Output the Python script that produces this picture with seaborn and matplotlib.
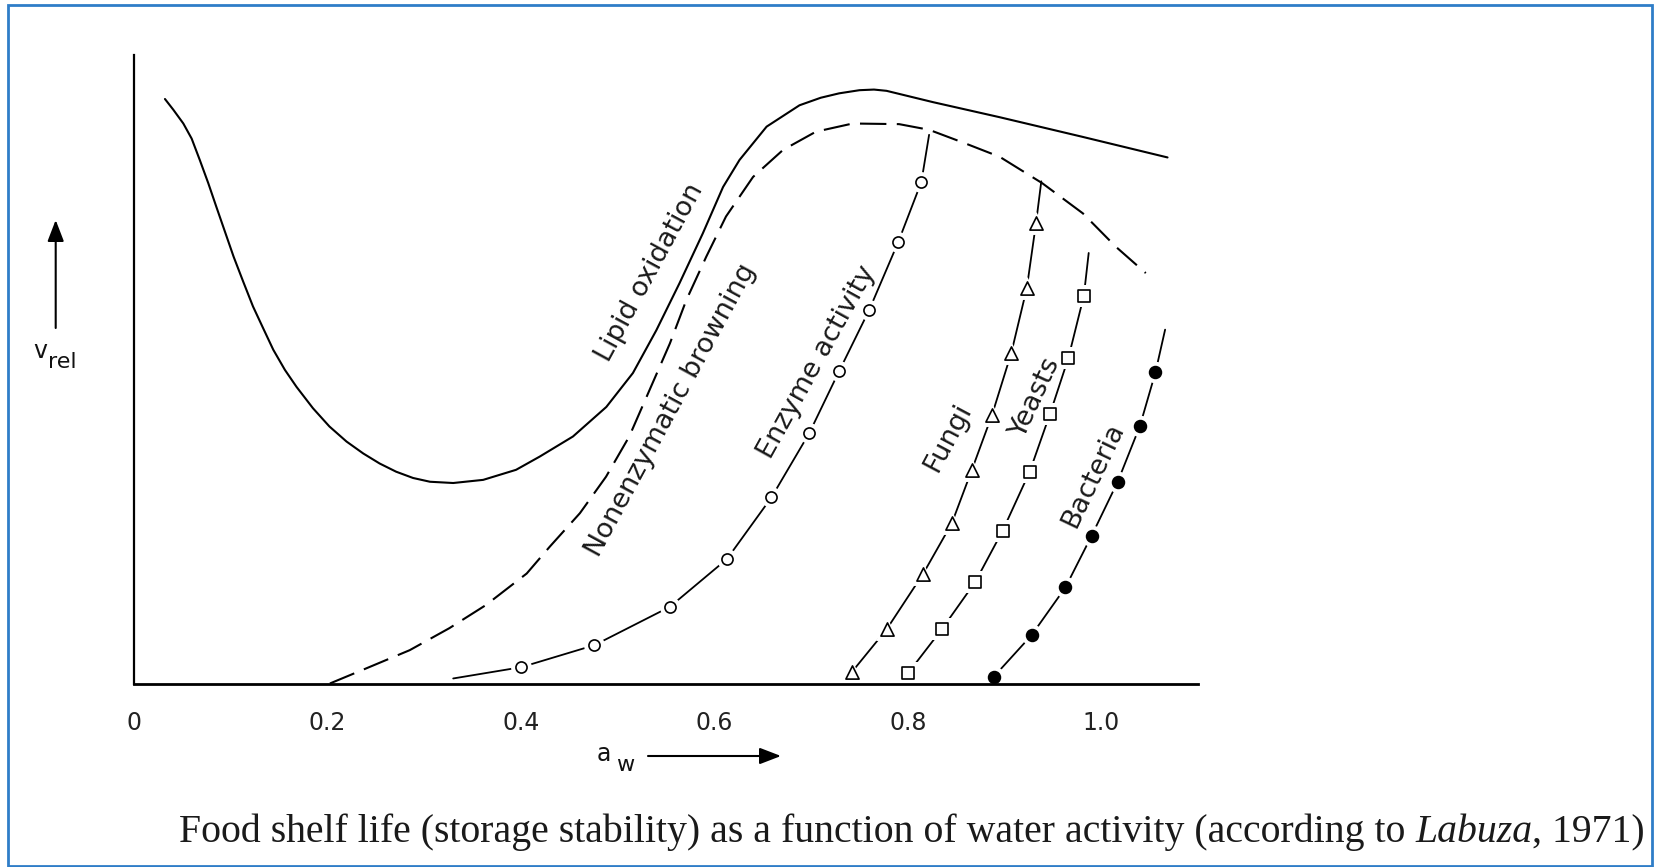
import numpy as np
import pandas as pd
import matplotlib
matplotlib.use("Agg")
import matplotlib.pyplot as plt
import matplotlib.patches as mpatches
import seaborn as sns

# ---------------- data ----------------
lipid_x = [0.032, 0.0406, 0.051, 0.0596, 0.068, 0.0768, 0.085, 0.094, 0.103, 0.113,
           0.123, 0.1336, 0.144, 0.156, 0.168, 0.185, 0.202, 0.2197, 0.237, 0.254,
           0.271, 0.2885, 0.306, 0.330, 0.361, 0.395, 0.4194, 0.4538, 0.4883, 0.5158,
           0.540, 0.564, 0.588, 0.609, 0.626, 0.654, 0.688, 0.710, 0.729, 0.750,
           0.765, 0.778, 0.826, 0.895, 0.980, 1.0685]
lipid_y = [93.0, 91.3, 89.1, 86.7, 83.3, 79.6, 75.9, 71.9, 67.9, 63.9,
           60.0, 56.5, 53.1, 49.9, 47.2, 43.8, 40.9, 38.5, 36.6, 35.0,
           33.7, 32.7, 32.1, 31.9, 32.4, 34.0, 36.1, 39.3, 44.0, 49.4,
           56.2, 63.7, 71.6, 79.0, 83.3, 88.6, 92.0, 93.2, 93.9, 94.4,
           94.5, 94.3, 92.5, 90.1, 87.0, 83.7]

browning_x = [0.2025, 0.240, 0.285, 0.326, 0.364, 0.406, 0.430, 0.461, 0.488, 0.512,
              0.533, 0.554, 0.571, 0.5916, 0.612, 0.640, 0.671, 0.705, 0.743, 0.791,
              0.822, 0.860, 0.895, 0.939, 0.981, 1.015, 1.046]
browning_y = [0.0, 2.4, 5.3, 8.8, 12.5, 17.5, 21.8, 27.1, 32.9, 39.3,
              46.7, 54.1, 61.0, 67.9, 74.3, 80.6, 84.9, 87.8, 89.1, 89.0,
              88.1, 85.9, 83.8, 79.6, 74.8, 69.5, 65.3]

enzyme_x = [0.4005, 0.476, 0.554, 0.613, 0.659, 0.698, 0.729, 0.760, 0.790, 0.814]
enzyme_y = [2.6, 6.1, 12.2, 19.8, 29.6, 39.8, 49.7, 59.4, 70.2, 79.8]
enzyme_start = (0.330, 0.8)
enzyme_end = (0.822, 87.3)

fungi_x = [0.742, 0.778, 0.816, 0.8455, 0.866, 0.887, 0.907, 0.923, 0.9325]
fungi_y = [1.8, 8.6, 17.5, 25.5, 33.9, 42.7, 52.6, 62.9, 73.2]
fungi_end = (0.938, 79.9)

yeasts_x = [0.800, 0.835, 0.8695, 0.898, 0.926, 0.947, 0.966, 0.982]
yeasts_y = [1.6, 8.6, 16.1, 24.3, 33.7, 42.9, 51.8, 61.7]
yeasts_end = (0.987, 68.5)

bacteria_x = [0.889, 0.928, 0.963, 0.990, 1.017, 1.040, 1.056]
bacteria_y = [1.1, 7.7, 15.3, 23.5, 32.1, 41.0, 49.5]
bacteria_end = (1.066, 56.3)

major_ticks = [0.0, 0.2, 0.4, 0.6, 0.8, 1.0]
major_labels = ["0", "0.2", "0.4", "0.6", "0.8", "1.0"]
minor_ticks = [0.1, 0.3, 0.5, 0.7, 0.9]

labels = ["Lipid oxidation", "Nonenzymatic browning", "Enzyme activity",
          "Fungi", "Yeasts", "Bacteria"]
caption_main = "Food shelf life (storage stability) as a function of water activity (according to"
caption_ital = "Labuza"
caption_tail = ", 1971)"

# ---------------- style ----------------
sns.set_style("white")
plt.rcParams["font.family"] = ["DejaVu Sans"]
plt.rcParams["lines.scale_dashes"] = False

W, H = 1654, 867
fig = plt.figure(figsize=(W / 100, H / 100), dpi=100)
fig.patch.set_facecolor("white")

# axes placement (pixel-based layout)
x0_px, x1_px = 134, 1198
y0_px, y1_px = 683.5, 55
ax = fig.add_axes([x0_px / W, 1 - y0_px / H, (x1_px - x0_px) / W, (y0_px - y1_px) / H])
ax.set_facecolor("none")
ax.set_xlim(0, 1.1)
ax.set_ylim(0, 100)

for s in ["top", "right"]:
    ax.spines[s].set_visible(False)
ax.spines["left"].set_linewidth(1.6)
ax.spines["bottom"].set_linewidth(2.0)
ax.spines["left"].set_color("black")
ax.spines["bottom"].set_color("black")
ax.spines["bottom"].set_zorder(3.5)
ax.spines["left"].set_zorder(3.5)

ax.set_xticks(major_ticks)
ax.set_xticklabels(major_labels)
ax.set_xticks(minor_ticks, minor=True)
ax.tick_params(axis="x", which="major", direction="out", length=9.5, width=1.3,
               pad=10, labelsize=17, colors="black")
ax.tick_params(axis="x", which="minor", direction="out", length=6.5, width=1.3, colors="black")
ax.set_yticks([])
ax.tick_params(axis="x", labelcolor="#222222")

# ---------------- curves ----------------
sns.lineplot(x=lipid_x, y=lipid_y, ax=ax, color="black", lw=1.5, sort=False,
             estimator=None, errorbar=None, zorder=2)
sns.lineplot(x=browning_x, y=browning_y, ax=ax, color="black", lw=1.5, sort=False,
             estimator=None, errorbar=None, linestyle=(0, (19, 7.5)), zorder=2)


def marker_series(xs, ys, start, end, marker, ms, filled):
    lx = list(xs)
    ly = list(ys)
    if start is not None:
        lx = [start[0]] + lx
        ly = [start[1]] + ly
    if end is not None:
        lx = lx + [end[0]]
        ly = ly + [end[1]]
    sns.lineplot(x=lx, y=ly, ax=ax, color="black", lw=1.3, sort=False,
                 estimator=None, errorbar=None, zorder=2)
    # white halo to create the gaps around the symbols
    sns.scatterplot(x=xs, y=ys, ax=ax, marker=marker, s=(ms + 7) ** 2,
                    color="white", edgecolor="white", linewidth=0, zorder=3)
    sns.scatterplot(x=xs, y=ys, ax=ax, marker=marker, s=ms ** 2,
                    color="black" if filled else "white", edgecolor="black",
                    linewidth=1.2, zorder=4)


marker_series(enzyme_x, enzyme_y, enzyme_start, enzyme_end, "o", 8, False)
marker_series(fungi_x, fungi_y, None, fungi_end, "^", 9.5, False)
marker_series(yeasts_x, yeasts_y, None, yeasts_end, "s", 9, False)
marker_series(bacteria_x, bacteria_y, None, bacteria_end, "o", 8.5, True)

# ---------------- curve labels ----------------
label_pos = [(0.533, 65.3, 61.5), (0.555, 43.5, 61.5), (0.7066, 51.2, 61),
             (0.842, 39.2, 62), (0.932, 45.6, 65), (0.992, 33.2, 64.5)]
for txt, (lx, ly, rot) in zip(labels, label_pos):
    ax.text(lx, ly, txt, rotation=rot, rotation_mode="anchor", ha="center", va="center",
            fontsize=19.5, color="#1a1a1a", family="DejaVu Sans", zorder=5)


def fpx(x, y):
    return (x / W, 1 - y / H)


# ---------------- axis labels with arrows ----------------
fig.text(*fpx(33, 358), "v", fontsize=17, ha="left", va="baseline", color="#111111")
fig.text(*fpx(48, 368), "rel", fontsize=16, ha="left", va="baseline", color="#111111")
fig.text(*fpx(597, 761), "a", fontsize=17, ha="left", va="baseline", color="#111111")
fig.text(*fpx(616, 771), "w", fontsize=16, ha="left", va="baseline", color="#111111")

arrow_kw = dict(arrowstyle="-|>,head_length=0.65,head_width=0.25", lw=1.5, color="black",
                shrinkA=0, shrinkB=0, mutation_scale=20)
ax.annotate("", xy=fpx(55.7, 220), xytext=fpx(55.7, 328), xycoords="figure fraction",
            textcoords="figure fraction", arrowprops=arrow_kw, annotation_clip=False)
ax.annotate("", xy=fpx(781, 756), xytext=fpx(648, 756), xycoords="figure fraction",
            textcoords="figure fraction", arrowprops=arrow_kw, annotation_clip=False)

# ---------------- caption ----------------
serif = ["Liberation Serif", "DejaVu Serif"]
cap_size = 28.6
t1 = fig.text(*fpx(179, 842), caption_main, fontsize=cap_size, family=serif,
              ha="left", va="baseline", color="#1a1a1a")
t2 = ax.annotate(caption_ital, xy=(1, 0), xycoords=t1, xytext=(0.25 * cap_size, 0),
                 textcoords="offset points", ha="left", va="bottom", fontsize=cap_size,
                 family=serif, style="italic", color="#1a1a1a", annotation_clip=False)
t3 = ax.annotate(caption_tail, xy=(1, 0), xycoords=t2, ha="left", va="bottom",
                 fontsize=cap_size, family=serif, color="#1a1a1a", annotation_clip=False)

# ---------------- blue frame ----------------
frame = mpatches.Rectangle(fpx(8, 866), (1652 - 8) / W, (866 - 5) / H,
                           transform=fig.transFigure, fill=False,
                           edgecolor="#2f7dc8", lw=2.0)
fig.patches.append(frame)

fig.savefig("out.png", dpi=100, facecolor="white")
